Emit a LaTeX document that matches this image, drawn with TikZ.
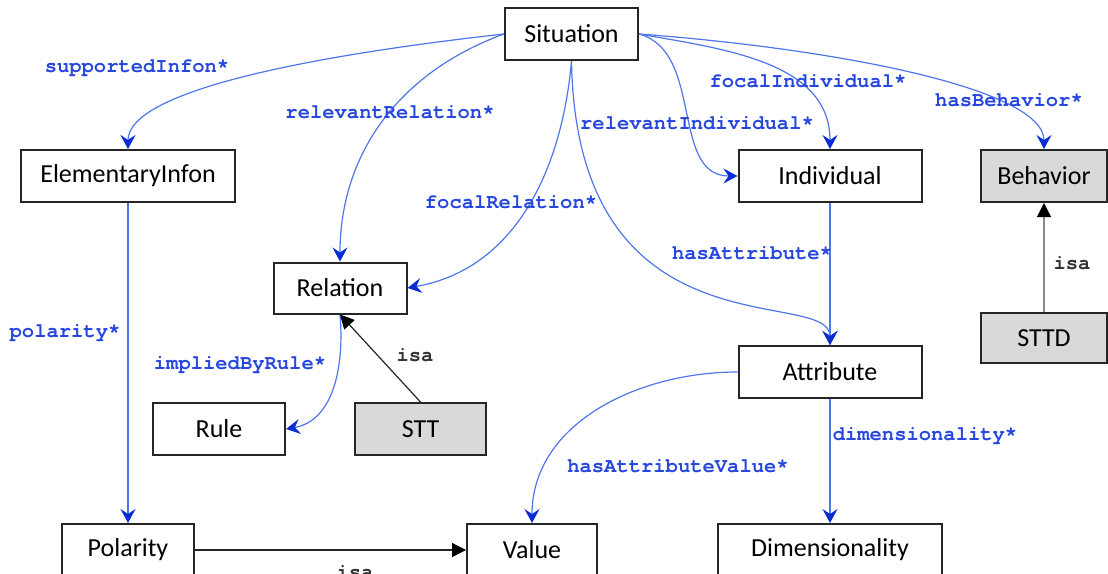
\documentclass[tikz,border=0pt]{standalone}
\usepackage{fontspec}
\usepackage{tikz}
\usetikzlibrary{arrows.meta}
\newfontfamily\boxfont{Carlito}
\newfontfamily\edgefont{TeX Gyre Cursor}
\definecolor{edgeblue}{RGB}{78,118,234}
\definecolor{tipblue}{RGB}{10,45,210}
\definecolor{labelblue}{RGB}{38,70,222}
\definecolor{boxgray}{RGB}{217,217,217}

\begin{document}
\begin{tikzpicture}[x=1pt,y=1pt,
		cls/.style={draw=black!85,line width=2pt,inner sep=0pt,minimum height=52pt,
			font=\boxfont\fontsize{26}{30}\selectfont},
		gcls/.style={cls,fill=boxgray},
		hasrel/.style={draw=edgeblue,line width=1.2pt,-{Stealth[length=14pt,width=15pt,inset=5pt,color=tipblue]}},
		isa/.style={draw=black!85,line width=1.2pt,-{Triangle[length=14pt,width=14pt,color=black]}},
		lab/.style={font=\edgefont\bfseries\fontsize{20.5}{24}\selectfont,text=labelblue,inner sep=0pt},
		isalab/.style={lab,text=black!80}]
			\useasboundingbox (0,0) rectangle (1108,-573);
			\node[cls,minimum width=133pt] (sit) at (571.5,-34) {Situation};
			\node[cls,minimum width=214pt] (einfon) at (128,-176) {ElementaryInfon};
			\node[cls,minimum width=183pt] (indiv) at (830,-176) {Individual};
			\node[gcls,minimum width=126pt] (behav) at (1044,-176) {Behavior};
			\node[cls,minimum width=133pt,minimum height=51pt] (relat) at (340,-288) {Relation};
			\node[cls,minimum width=183pt] (attr) at (830,-372) {Attribute};
			\node[cls,minimum width=132pt] (rule) at (219,-429) {Rule};
			\node[gcls,minimum width=131pt] (stt) at (420.5,-429) {STT};
			\node[gcls,minimum width=126pt,minimum height=50pt] (sttd) at (1044,-338) {STTD};
			\node[cls,minimum width=132pt] (pol) at (128,-550) {Polarity};
			\node[cls,minimum width=130pt] (val) at (532,-550) {Value};
			\node[cls,minimum width=224pt] (dim) at (830,-550) {Dimensionality};
			\draw[hasrel] (sit.west) .. controls +(-180,-20) and +(0,60) .. (einfon.north);
			\draw[hasrel] (sit.west) to[out=200,in=90] (relat.north);
			\draw[hasrel] (sit.south) to[out=-95,in=10] (relat.east);
			\draw[hasrel] (sit.south) .. controls +(5,-300) and +(0,60) .. (attr.north);
			\draw[hasrel] (sit.east) to[out=-15,in=180] (indiv.west);
			\draw[hasrel] (sit.east) to[out=-10,in=90] (indiv.north);
			\draw[hasrel] (sit.east) .. controls +(200,-15) and +(0,60) .. (behav.north);
			\draw[hasrel] (indiv.south) -- (attr.north);
			\draw[hasrel] (einfon.south) -- (pol.north);
			\draw[hasrel] (relat.south) to[out=-85,in=10] (rule.east);
			\draw[hasrel] (attr.west) to[out=180,in=90] (val.north);
			\draw[hasrel] (attr.south) -- (dim.north);
			\draw[isa] (stt.north) -- (relat.south);
			\draw[isa,draw=black!45] (sttd.north) -- (behav.south);
			\draw[isa] (pol.east) -- (val.west);
			\node[lab] (lsupp) at (137,-68) {supportedInfon*};
			\node[lab] (lrelrel) at (390,-112) {relevantRelation*};
			\node[lab] (lfocrel) at (511,-202) {focalRelation*};
			\node[lab] (lrelind) at (697,-123) {relevantIndividual*};
			\node[lab] (lfocind) at (808,-81) {focalIndividual*};
			\node[lab] (lbeh) at (1009,-100) {hasBehavior*};
			\node[lab] (lattr) at (752,-253) {hasAttribute*};
			\node[lab] (lpol) at (65,-333) {polarity*};
			\node[lab] (lrule) at (240,-365) {impliedByRule*};
			\node[lab] (lval) at (678,-466) {hasAttributeValue*};
			\node[lab] (ldim) at (925,-436) {dimensionality*};
			\node[isalab] (lisa1) at (415,-355) {isa};
			\node[isalab] (lisa2) at (1072,-263) {isa};
			\node[isalab,anchor=base] (lisa3) at (355,-578) {isa};
		\end{tikzpicture}
\end{document}
